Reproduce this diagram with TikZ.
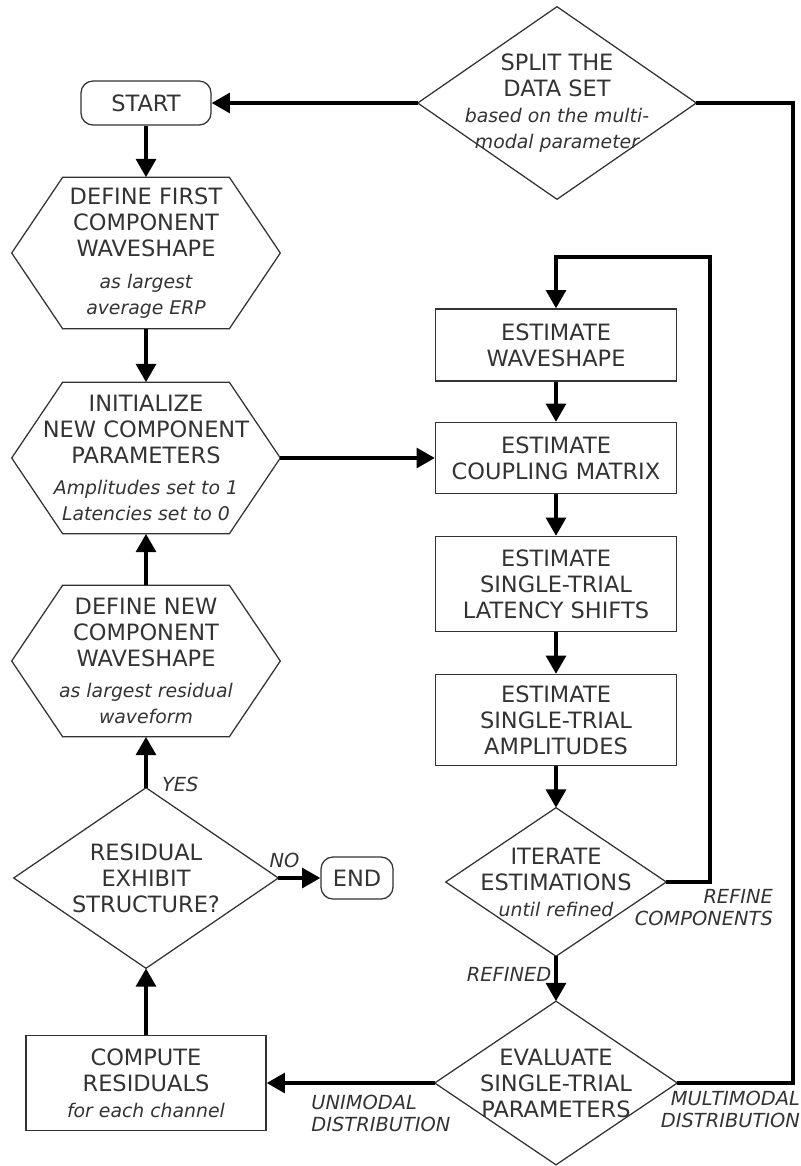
\documentclass[tikz,border=0pt]{standalone}
\usepackage{fontspec}
\setmainfont{DejaVu Sans}
\usetikzlibrary{arrows.meta}

\newcommand{\sub}[1]{{\itshape\fontsize{13.4}{16}\selectfont #1}}

\tikzset{
  txt/.style={text=black!80, font=\fontsize{16}{18.5}\selectfont, align=center, inner sep=0pt},
  box/.style={txt, draw=black!80, line width=0.9pt, minimum width=6.025cm},
  term/.style={txt, draw=black!80, line width=0.9pt, rounded corners=0.3cm},
  shapetext/.style={txt},
  outline/.style={draw=black!80, line width=0.9pt},
  flow/.style={line width=2.8pt, -{Triangle[width=14pt,length=13pt]}},
  link/.style={line width=2.8pt},
  lbl/.style={text=black!80, font=\itshape\fontsize{13.8}{15.5}\selectfont, inner sep=2pt},
}

\begin{document}
\begin{tikzpicture}[x=0.025cm, y=-0.025cm]
\useasboundingbox (0,0) rectangle (801,1166);

% left column
\node[term, minimum width=3.25cm, minimum height=1.1cm] (start) at (146,103) {START};
\node[shapetext, minimum width=6.7cm, minimum height=3.775cm] (first) at (146,253)
  {DEFINE FIRST\\COMPONENT\\WAVESHAPE\\[4pt]\sub{as largest}\\\sub{average ERP}};
\node[shapetext, minimum width=6.7cm, minimum height=3.775cm] (init) at (146,458)
  {INITIALIZE\\NEW COMPONENT\\PARAMETERS\\[4pt]\sub{Amplitudes set to 1}\\\sub{Latencies set to 0}};
\node[shapetext, minimum width=6.7cm, minimum height=3.775cm] (newhex) at (146,661)
  {DEFINE NEW\\COMPONENT\\WAVESHAPE\\[4pt]\sub{as largest residual}\\\sub{waveform}};
\node[shapetext, minimum width=6.6cm, minimum height=4.5cm] (resid) at (146,878)
  {RESIDUAL\\EXHIBIT\\STRUCTURE?};
\node[term, minimum width=1.8cm, minimum height=1.05cm] (end) at (357,878) {END};
\node[box, minimum width=6cm, minimum height=2.375cm] (compute) at (146,1083)
  {COMPUTE\\RESIDUALS\\\sub{for each channel}};

% right column
\node[shapetext, minimum width=6.95cm, minimum height=4.8cm] (split) at (557,103)
  {SPLIT THE\\DATA SET\\\sub{based on the multi-}\\\sub{modal parameter}};
\node[box, minimum height=1.8cm] (wave) at (556,345) {ESTIMATE\\WAVESHAPE};
\node[box, minimum height=1.775cm] (coup) at (556,458) {ESTIMATE\\COUPLING MATRIX};
\node[box, minimum height=2.375cm] (lat) at (556,584) {ESTIMATE\\SINGLE-TRIAL\\LATENCY SHIFTS};
\node[box, minimum height=2.275cm] (amp) at (556,720) {ESTIMATE\\SINGLE-TRIAL\\AMPLITUDES};
\node[shapetext, minimum width=5.5cm, minimum height=3.7cm] (iter) at (556,882)
  {ITERATE\\ESTIMATIONS\\\sub{until refined}};
\node[shapetext, minimum width=6.05cm, minimum height=4.075cm] (eval) at (556,1083)
  {EVALUATE\\SINGLE-TRIAL\\PARAMETERS};

% outlines
\foreach \h in {first,init,newhex}
  \draw[outline] (\h.west) -- ([xshift=1.275cm]\h.north west) -- ([xshift=-1.275cm]\h.north east)
    -- (\h.east) -- ([xshift=-1.275cm]\h.south east) -- ([xshift=1.275cm]\h.south west) -- cycle;
\foreach \d in {split,resid,iter,eval}
  \draw[outline] (\d.north) -- (\d.east) -- (\d.south) -- (\d.west) -- cycle;

% connectors
\coordinate (loop) at (710,257);
\coordinate (back) at (793,103);
\draw[flow] (split.west) -- (start.east);
\draw[flow] (start.south) -- (first.north);
\draw[flow] (first.south) -- (init.north);
\draw[flow] (newhex.north) -- (init.south);
\draw[flow] (resid.north) -- node[lbl, anchor=base west, pos=0, xshift=8pt, yshift=-3pt] (yeslbl) {YES} (newhex.south);
\draw[flow] (resid.east) -- node[lbl, above, pos=0.15, yshift=4pt] (nolbl) {NO} (end.west);
\draw[flow] (compute.north) -- (resid.south);
\draw[flow] (eval.west) -- node[lbl, below, align=left, pos=0.32, yshift=-5pt] (unilbl) {UNIMODAL\\DISTRIBUTION} (compute.east);
\draw[flow] (init.east) -- (coup.west);
\draw[flow] (wave.south) -- (coup.north);
\draw[flow] (coup.south) -- (lat.north);
\draw[flow] (lat.south) -- (amp.north);
\draw[flow] (amp.south) -- (iter.north);
\draw[flow] (iter.east) -| (loop) -| (wave.north);
\draw[flow] (iter.south) -- node[lbl, left, pos=0.4] (refinedlbl) {REFINED} (eval.north);
\draw[link] (eval.east) -| (back) -- (split.east);

% labels
\node[lbl, align=right, anchor=north east] (refinelbl) at (776,886) {REFINE\\COMPONENTS};
\node[lbl, align=right, anchor=north east] (multilbl) at (803,1088) {MULTIMODAL\\DISTRIBUTION};
\end{tikzpicture}
\end{document}
